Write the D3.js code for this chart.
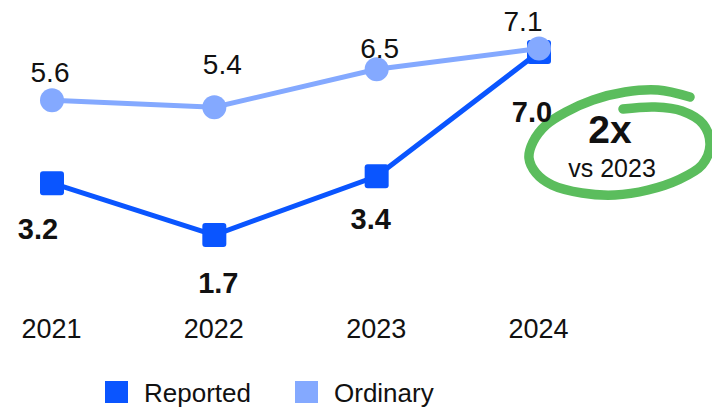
<!DOCTYPE html>
<html lang="en">
<head>
  <meta charset="UTF-8" />
  <title>Reported vs Ordinary</title>
  <script src="https://d3js.org/d3.v7.min.js"></script>
  <style>
    body {
      margin: 0;
      background: #fff;
      font-family: "Liberation Sans", Arial, sans-serif;
    }
    svg text {
      fill: #111;
    }
  </style>
</head>
<body>
  <div id="chart"></div>

  <script>
    // data
    const years = ["2021", "2022", "2023", "2024"];
    const reported = [3.2, 1.7, 3.4, 7.0];
    const ordinary = [5.6, 5.4, 6.5, 7.1];
    const seriesNames = ["Reported", "Ordinary"];

    const width = 712;
    const height = 408;

    const blue = "#0a55ff";
    const lightBlue = "#84a9ff";
    const green = "#5bbd5d";

    const svg = d3.select("#chart")
      .append("svg")
      .attr("width", width)
      .attr("height", height);

    const x = d3.scalePoint()
      .domain(years)
      .range([52, 539]);

    const y = d3.scaleLinear()
      .domain([0, 8])
      .range([293.7, 17.5]);

    // hand drawn loop around the "2x" note (sits behind everything)
    const loop = [
      [623, 109], [655, 107], [682, 111], [703, 124], [710, 145],
      [702, 165], [678, 180], [648, 190], [615, 195], [582, 193],
      [552, 185], [536, 173], [529, 158], [533, 142], [546, 125],
      [566, 112], [593, 100], [625, 92], [658, 90], [690, 97]
    ];
    svg.append("path")
      .attr("d", d3.line().curve(d3.curveCatmullRom.alpha(0.5))(loop))
      .attr("fill", "none")
      .attr("stroke", green)
      .attr("stroke-width", 9.5)
      .attr("stroke-linecap", "round");

    // year labels (axis without line / ticks)
    const xAxis = svg.append("g")
      .attr("transform", "translate(0,338)")
      .call(d3.axisBottom(x).tickSize(0).tickPadding(0));
    xAxis.select(".domain").remove();
    xAxis.selectAll("text")
      .attr("dy", 0)
      .attr("dx", -1)
      .attr("fill", "#111")
      .style("font-size", "27px")
      .style("font-family", "'Liberation Sans', Arial, sans-serif");

    const line = d3.line()
      .x((d, i) => x(years[i]))
      .y(d => y(d));

    // Reported line (drawn first, Ordinary sits on top)
    svg.append("path")
      .datum(reported)
      .attr("d", line)
      .attr("fill", "none")
      .attr("stroke", blue)
      .attr("stroke-width", 5);

    svg.selectAll(".rep-marker")
      .data(reported)
      .enter()
      .append("rect")
      .attr("class", "rep-marker")
      .attr("x", (d, i) => x(years[i]) - 12)
      .attr("y", d => y(d) - 12)
      .attr("width", 24)
      .attr("height", 24)
      .attr("rx", 3)
      .attr("fill", blue);

    svg.append("path")
      .datum(ordinary)
      .attr("d", line)
      .attr("fill", "none")
      .attr("stroke", lightBlue)
      .attr("stroke-width", 5);

    svg.selectAll(".ord-marker")
      .data(ordinary)
      .enter()
      .append("circle")
      .attr("class", "ord-marker")
      .attr("cx", (d, i) => x(years[i]))
      .attr("cy", d => y(d))
      .attr("r", 12)
      .attr("fill", lightBlue);

    // value labels: nudges so they don't collide with lines
    const ordDx = [-2, 8, 3, -16];
    const ordDy = [-18, -33, -11, -18];
    svg.selectAll(".ord-label")
      .data(ordinary)
      .enter()
      .append("text")
      .attr("class", "ord-label")
      .attr("x", (d, i) => x(years[i]) + ordDx[i])
      .attr("y", (d, i) => y(d) + ordDy[i])
      .attr("text-anchor", "middle")
      .style("font-size", "28px")
      .text(d => d.toFixed(1));

    const repDx = [-14, 4, -6, -7];
    const repDy = [56, 58, 53, 70];
    svg.selectAll(".rep-label")
      .data(reported)
      .enter()
      .append("text")
      .attr("class", "rep-label")
      .attr("x", (d, i) => x(years[i]) + repDx[i])
      .attr("y", (d, i) => y(d) + repDy[i])
      .attr("text-anchor", "middle")
      .style("font-size", "29px")
      .style("font-weight", "bold")
      .text(d => d.toFixed(1));

    svg.append("text")
      .attr("x", 610)
      .attr("y", 143)
      .attr("text-anchor", "middle")
      .style("font-size", "39px")
      .style("font-weight", "bold")
      .text("2x");

    svg.append("text")
      .attr("x", 612)
      .attr("y", 177)
      .attr("text-anchor", "middle")
      .style("font-size", "25px")
      .text("vs 2023");

    // legend
    const legendX = [105, 295];
    const legend = svg.selectAll(".legend")
      .data(seriesNames)
      .enter()
      .append("g")
      .attr("class", "legend")
      .attr("transform", (d, i) => `translate(${legendX[i]},381)`);

    legend.append("rect")
      .attr("width", 23)
      .attr("height", 22)
      .attr("fill", (d, i) => i === 0 ? blue : lightBlue);

    legend.append("text")
      .attr("x", 39)
      .attr("y", 21)
      .style("font-size", "26px")
      .text(d => d);
  </script>
</body>
</html>
